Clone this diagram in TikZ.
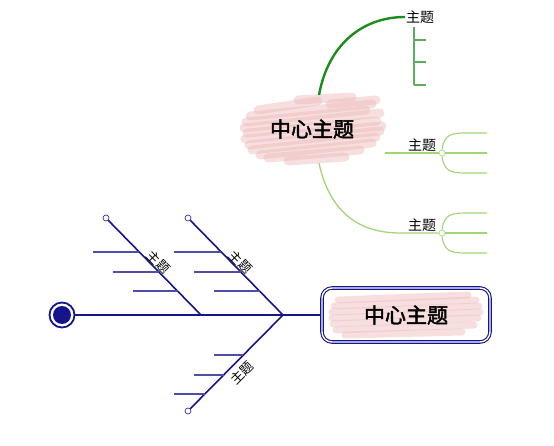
\documentclass[tikz,border=0pt]{standalone}
\usepackage{fontspec}
\usetikzlibrary{positioning}
\newfontfamily\cjk{Noto Sans CJK SC}
\newfontfamily\cjkbold[FakeBold=2]{Noto Sans CJK SC}
\definecolor{navyline}{HTML}{14148C}
\definecolor{navysub}{HTML}{4E4EA6}
\definecolor{darkbranch}{HTML}{1C8C1C}
\definecolor{midbranch}{HTML}{5CAE5C}
\definecolor{lightbranch}{HTML}{A2D673}
\definecolor{scribpink}{HTML}{EDB8B8}
\tikzset{
  topic/.style={font=\cjk\fontsize{14}{14}\selectfont, inner sep=1pt},
  central/.style={font=\cjkbold\fontsize{21}{21}\selectfont, inner sep=2pt},
  scrib/.style={scribpink, opacity=0.45, line width=9pt, line cap=round},
  knot/.style={circle, draw=#1, fill=white, inner sep=0pt, minimum size=6pt, line width=0.6pt},
  bonelabel/.style={font=\cjk\fontsize{13}{13}\selectfont, sloped, text=black}
}
\begin{document}
\begin{tikzpicture}[x=1pt, y=-1pt]
   \useasboundingbox (0,0) rectangle (554,446);

   % pink scribble behind the upper central topic
   \foreach \xa/\ya/\xb/\yb in {258/110/318/101, 250/116/372/104, 246/122/366/110, 244/128/380/113,
        247/133/377/121, 245/139/382/126, 249/145/380/131, 252/150/376/137, 260/155/372/143,
        268/158/360/150, 288/161/345/157, 298/100/352/97, 330/104/376/100}
      \draw[scrib] (\xa,\ya) -- (\xb,\yb);
   \node[central] (c1) at (312,129) {中心主题};

   % first branch
   \node[topic, anchor=west] (t1) at (405,17) {主题};
   \draw[darkbranch, line width=2.4pt] (319,95) .. controls (328,45) and (362,17) .. (t1.west);
   \coordinate (v1) at (414,27);
   \coordinate (v2) at (414,85);
   \draw[midbranch, line width=1.3pt] (v1) -- (v2);
   \foreach \y in {40,62,85}
      \draw[midbranch, line width=1.3pt] (414,\y) -- (426,\y);

   % second branch
   \node[topic] (t2) at (422,145) {主题};
   \coordinate (l2) at (385,153);
   \node[knot=lightbranch] (k2) at (442,153) {};
   \draw[lightbranch, line width=1.2pt] (l2) -- (k2);
   \draw[lightbranch, line width=1.1pt] (k2.north) .. controls (444,134) and (452,133) .. (466,133) -- (487,133);
   \draw[lightbranch, line width=1.1pt] (k2.east) -- (487,153);
   \draw[lightbranch, line width=1.1pt] (k2.south) .. controls (444,172) and (452,173) .. (466,173) -- (487,173);

   % third branch
   \node[topic] (t3) at (422,225) {主题};
   \node[knot=lightbranch] (k3) at (442,233) {};
   \draw[lightbranch, line width=1.3pt] (319,163) .. controls (330,215) and (362,233) .. (400,233) -- (k3);
   \draw[lightbranch, line width=1.1pt] (k3.north) .. controls (444,214) and (452,213) .. (466,213) -- (487,213);
   \draw[lightbranch, line width=1.1pt] (k3.east) -- (487,233);
   \draw[lightbranch, line width=1.1pt] (k3.south) .. controls (444,252) and (452,253) .. (466,253) -- (487,253);

   % fishbone head and box
   \node[circle, draw=navyline, line width=1.8pt, minimum size=25pt, inner sep=0pt] (head) at (62,315) {};
   \fill[navyline] (head.center) circle (9);
   \foreach \xa/\ya/\xb/\yb in {338/300/468/295, 334/306/476/300, 332/312/479/306, 332/318/480/312,
        333/324/478/318, 336/330/474/325, 345/335/462/332}
      \draw[scrib, line width=7pt] (\xa,\ya) -- (\xb,\yb);
   \node[draw=navyline, double=white, double distance=1.4pt, line width=1.1pt, rounded corners=10pt,
         minimum width=168pt, minimum height=54pt, central] (fish) at (406,315) {中心主题};

   \coordinate (j1) at (201,315);
   \coordinate (j2) at (283,315);
   \draw[navyline, line width=2.2pt] (head) -- (fish.west);

   % bones
   \node[knot=navyline] (e1) at (106,218) {};
   \node[knot=navyline] (e2) at (188,218) {};
   \node[knot=navyline] (e3) at (188,411) {};
   \draw[navyline, line width=1.6pt] (e1) -- node[bonelabel, above, pos=0.49, inner sep=0pt] {主题} (j1);
   \draw[navyline, line width=1.6pt] (e2) -- node[bonelabel, above, pos=0.49, inner sep=0pt] {主题} (j2);
   \draw[navyline, line width=1.6pt] (e3) -- node[bonelabel, below, pos=0.47, inner sep=5pt] {主题} (j2);

   % small bones
   \foreach \y/\xa/\xb in {252/93/139.3, 272/113/158.9, 291/133/177.5,
                           252/174/221.3, 272/194/240.9, 291/214/259.5,
                           355/214/243.4, 375/194/223.6, 394/174/204.8}
      \draw[navysub, line width=1.3pt] (\xa,\y) -- (\xb,\y);
\end{tikzpicture}
\end{document}
